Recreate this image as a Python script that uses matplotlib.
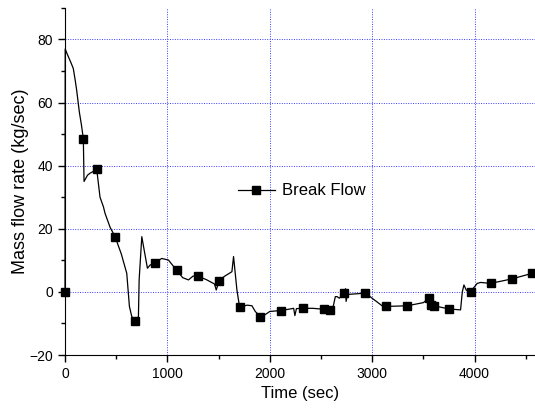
import matplotlib.pyplot as plt

plt.rcParams['font.family'] = ['Liberation Sans', 'DejaVu Sans']

time_s = [0, 2, 20, 40, 60, 81, 100, 114, 140, 160, 179, 186, 220, 244, 310, 342, 375,
          391, 440, 489,
          550, 603, 629, 652, 688, 717, 724, 750, 780, 805, 831, 880, 945, 1010, 1092,
          1150, 1206, 1250, 1294, 1386, 1460, 1477, 1506, 1560, 1630, 1646, 1679, 1705,
          1780, 1826, 1858, 1907, 1955, 2000, 2109, 2200, 2233, 2245, 2260, 2321, 2420,
          2526, 2592, 2620, 2640, 2657, 2680, 2722, 2740, 2745, 2760, 2934, 3097, 3139,
          3342, 3500, 3553, 3570, 3603, 3749, 3863, 3880, 3896, 3920, 3961, 4026, 4060,
          4156, 4362, 4564]
flow = [0, 77, 75.5, 74, 72.5, 70.8, 67, 63.9, 57, 53, 48.6, 35, 37, 37.6, 38.8, 30, 27,
        24.9, 20.5, 17.5,
        12, 5.9, -4.6, -7.8, -9.2, -7.8, 3.8, 17.5, 12, 7.5, 8.5, 9.3, 10.6, 10.1, 6.8,
        4.5, 3.8, 5, 5.1, 3.8, 2.5, 0.6, 3.6, 5, 6.4, 11.2, 0.6, -4.8,
        -4.2, -4.4, -6.2, -7.8, -7.2, -6.2, -5.9, -5.4, -5.2, -7.5, -5.3, -5.2, -5.2,
        -5.5, -5.7, -4.5, -1.5, -1.5, -2, -0.4, 1, -3, -0.8, -0.4, -4.4, -4.6,
        -4.4, -3.4, -2.0, -4.1, -4.4, -5.4, -5.7, 0, 2.2, 0.5, 0.1, 2.7, 3,
        2.7, 4.1, 5.9]
marked_times = [0, 179, 310, 489, 688, 880, 1092, 1294, 1506, 1705, 1907, 2109, 2321,
                2526, 2592, 2722, 2934, 3139, 3342, 3553, 3570, 3603, 3749, 3961, 4156,
                4362, 4564]
marker_idx = [time_s.index(m) for m in marked_times]

fig = plt.figure(figsize=(5.35, 4.16), dpi=100)
ax = fig.add_axes([0.1215, 0.1466, 0.8785, 0.8344])

ax.plot(time_s, flow, color='black', lw=0.9, marker='s', markersize=6,
        markevery=marker_idx, label='Break Flow', clip_on=False)

ax.set_xlim(0, 4590)
ax.set_ylim(-20, 90)
ax.set_xticks([0, 1000, 2000, 3000, 4000])
ax.set_xticks(range(500, 4590, 1000), minor=True)
ax.set_yticks([-20, 0, 20, 40, 60, 80])
ax.set_yticks([-10, 10, 30, 50, 70, 90], minor=True)
ax.tick_params(which='major', direction='out', length=5, width=1, labelsize=10)
ax.tick_params(which='minor', direction='out', length=3, width=1)
ax.spines['top'].set_visible(False)
ax.spines['right'].set_visible(False)
ax.grid(True, which='major', color='#3a3aff', linestyle=(0, (1, 1.5)), linewidth=0.7)
ax.set_axisbelow(True)

ax.set_xlabel('Time (sec)', fontsize=12)
ax.set_ylabel('Mass flow rate (kg/sec)', fontsize=13, labelpad=0)

ax.legend(loc='center left', bbox_to_anchor=(0.368, 0.4726), frameon=False,
          fontsize=12, handlelength=2.2, handletextpad=0.45,
          borderpad=0, borderaxespad=0)

fig.savefig('out.png', dpi=100)
